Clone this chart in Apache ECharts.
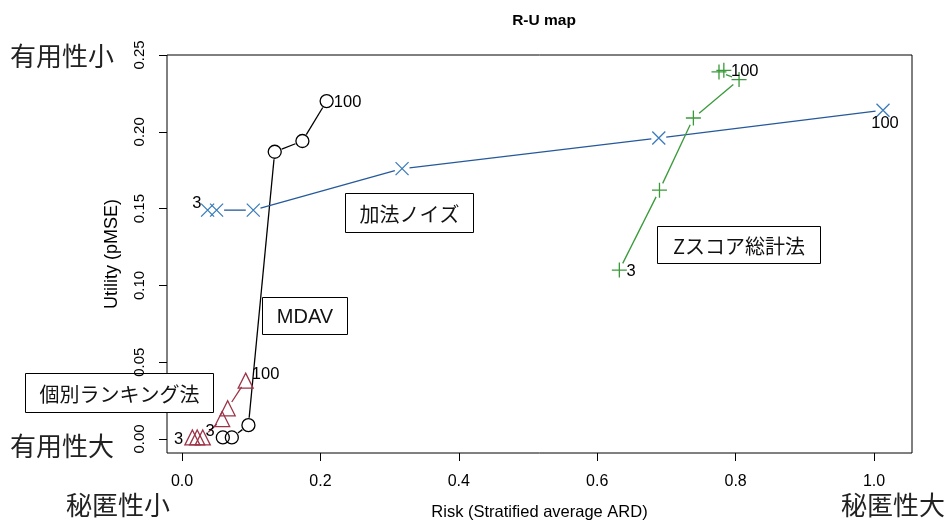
<!DOCTYPE html>
<html>
<head>
<meta charset="utf-8">
<script src="https://cdn.jsdelivr.net/npm/echarts@6/dist/echarts.min.js"></script>
<style>
  html, body { margin: 0; padding: 0; background: #fff; }
  #chart { width: 949px; height: 522px; }
</style>
</head>
<body>
<div id="chart"></div>
<script>
// Axis ticks
const xTicks = [0.0, 0.2, 0.4, 0.6, 0.8, 1.0];
const yTicks = [0.00, 0.05, 0.10, 0.15, 0.20, 0.25];

// Risk (stratified average ARD) and utility (pMSE), k = 3 ... 100
const mdavRisk = [0.059, 0.072, 0.096, 0.134, 0.174, 0.209];
const mdavUtil = [0.001, 0.001, 0.009, 0.187, 0.194, 0.220];

const rankRisk = [0.015, 0.022, 0.030, 0.058, 0.066, 0.092];
const rankUtil = [0.001, 0.001, 0.001, 0.013, 0.020, 0.038];

const noiseRisk = [0.037, 0.050, 0.103, 0.318, 0.689, 1.013];
const noiseUtil = [0.149, 0.149, 0.149, 0.176, 0.196, 0.214];

const zRisk = [0.632, 0.690, 0.739, 0.805, 0.776, 0.783];
const zUtil = [0.110, 0.162, 0.209, 0.234, 0.239, 0.240];

const firstLabel = '3';
const lastLabel = '100';

const FONT = '"Liberation Sans", Arial, sans-serif';
const JP = '"Noto Sans CJK JP", sans-serif';

// Connecting segments that stop short of each marker (R type = "b")
function gapLine(xs, ys, color, gap) {
  const pts = xs.map((x, i) => [x, ys[i]]);
  return {
    type: 'custom',
    data: pts,
    silent: true,
    z: 2,
    renderItem(params, api) {
      const i = params.dataIndex;
      if (i >= pts.length - 1) return null;
      const p = api.coord(pts[i]);
      const q = api.coord(pts[i + 1]);
      const dx = q[0] - p[0], dy = q[1] - p[1];
      const len = Math.hypot(dx, dy);
      if (len <= 2 * gap) return null;
      const ux = dx / len, uy = dy / len;
      return {
        type: 'line',
        shape: { x1: p[0] + ux * gap, y1: p[1] + uy * gap, x2: q[0] - ux * gap, y2: q[1] - uy * gap },
        style: { stroke: color, lineWidth: 1.3 }
      };
    }
  };
}

function pointLabel(text, pos, offset) {
  return { show: true, formatter: text, position: pos, distance: 1, offset: offset,
           color: '#000', fontSize: 16.5, fontFamily: FONT };
}

function markers(xs, ys, symbol, size, color, firstLbl, lastLbl) {
  const data = xs.map((x, i) => {
    const item = { value: [x, ys[i]] };
    if (i === 0 && firstLbl) item.label = firstLbl;
    if (i === xs.length - 1 && lastLbl) item.label = lastLbl;
    return item;
  });
  return {
    type: 'scatter',
    data: data,
    symbol: symbol,
    symbolSize: size,
    silent: true,
    z: 3,
    itemStyle: { color: 'rgba(0,0,0,0)', borderColor: color, borderWidth: 1.3, opacity: 1 },
    label: { show: false }
  };
}

const CROSS = 'path://M0,0L10,10M10,0L0,10';
const PLUS = 'path://M5,0L5,10M0,5L10,5';

const cMdav = '#000000';
const cRank = '#9c3346';
const cNoise = '#3b7cbb';
const cNoiseLine = '#25599b';
const cZ = '#3a9a3a';

function boxLabel(x, y, w, h, text, font) {
  return {
    type: 'group', x: x + 0.5, y: y + 0.5, z: 100,
    children: [
      { type: 'rect', shape: { x: 0, y: 0, width: w, height: h },
        style: { fill: '#fff', stroke: '#000', lineWidth: 1 } },
      { type: 'text', x: w / 2, y: h / 2 + 1,
        style: { text: text, fill: '#111', font: font, align: 'center', verticalAlign: 'middle' } }
    ]
  };
}

function cornerText(x, y, text, align) {
  return { type: 'text', x: x, y: y, z: 100,
           style: { text: text, fill: '#222', font: '26px ' + JP, align: align, verticalAlign: 'middle' } };
}

const chart = echarts.init(document.getElementById('chart'), null, { renderer: 'canvas' });

chart.setOption({
  animation: false,
  backgroundColor: '#fff',
  title: {
    text: 'R-U map', left: 539, top: 8, textAlign: 'center',
    textStyle: { fontSize: 15.5, fontWeight: 'bold', fontFamily: FONT, color: '#000' }
  },
  grid: {
    left: 167, right: 37, top: 55, bottom: 69,
    outerBoundsMode: 'none', containLabel: false,
    show: true, borderColor: '#000', borderWidth: 1, backgroundColor: 'transparent'
  },
  xAxis: {
    type: 'value', min: -0.02168, max: 1.05491,
    axisLine: { show: false, onZero: false },
    splitLine: { show: false },
    axisTick: { show: true, length: 8, customValues: xTicks, lineStyle: { color: '#000', width: 1 } },
    axisLabel: { customValues: xTicks, formatter: v => v.toFixed(1), margin: 21,
                 fontSize: 16, color: '#000', fontFamily: FONT },
    name: 'Risk (Stratified average ARD)', nameLocation: 'middle', nameGap: 51,
    nameTextStyle: { fontSize: 16.5, color: '#000', fontFamily: FONT, verticalAlign: 'top' }
  },
  yAxis: {
    type: 'value', min: -0.009115, max: 0.25,
    axisLine: { show: false, onZero: false },
    splitLine: { show: false },
    axisTick: { show: true, length: 8, customValues: yTicks, lineStyle: { color: '#000', width: 1 } },
    axisLabel: { customValues: yTicks, formatter: v => v.toFixed(2), margin: 20, rotate: 90,
                 fontSize: 15, color: '#000', fontFamily: FONT },
    name: 'Utility (pMSE)', nameLocation: 'middle', nameGap: 46,
    nameTextStyle: { fontSize: 18, color: '#000', fontFamily: FONT }
  },
  series: [
    gapLine(mdavRisk, mdavUtil, cMdav, 7.5),
    gapLine(rankRisk, rankUtil, cRank, 7.5),
    gapLine(noiseRisk, noiseUtil, cNoiseLine, 7.5),
    gapLine(zRisk, zUtil, cZ, 7.5),
    markers(mdavRisk, mdavUtil, 'circle', 13, cMdav,
            pointLabel(firstLabel, 'left', [0, -6]), pointLabel(lastLabel, 'right', [-1, 1])),
    markers(rankRisk, rankUtil, 'triangle', 15, cRank,
            pointLabel(firstLabel, 'left', [0, 2]), pointLabel(lastLabel, 'right', [-3, -6])),
    markers(noiseRisk, noiseUtil, CROSS, 13, cNoise,
            pointLabel(firstLabel, 'left', [2, -7]), pointLabel(lastLabel, 'bottom', [2, -3])),
    markers(zRisk, zUtil, PLUS, 15, cZ,
            pointLabel(firstLabel, 'right', [-2, 1]), pointLabel(lastLabel, 'right', [-2, 1]))
  ],
  graphic: [
    boxLabel(345, 193, 128, 39, '加法ノイズ', '20px ' + JP),
    boxLabel(262, 297, 85, 37, 'MDAV', '20px ' + FONT),
    boxLabel(657, 226, 163, 37, 'Zスコア総計法', '20px ' + JP),
    boxLabel(25, 373, 188, 39, '個別ランキング法', '20px ' + JP),
    cornerText(10, 56, '有用性小', 'left'),
    cornerText(10, 446, '有用性大', 'left'),
    cornerText(66, 505, '秘匿性小', 'left'),
    cornerText(945, 505, '秘匿性大', 'right')
  ]
});
</script>
</body>
</html>
